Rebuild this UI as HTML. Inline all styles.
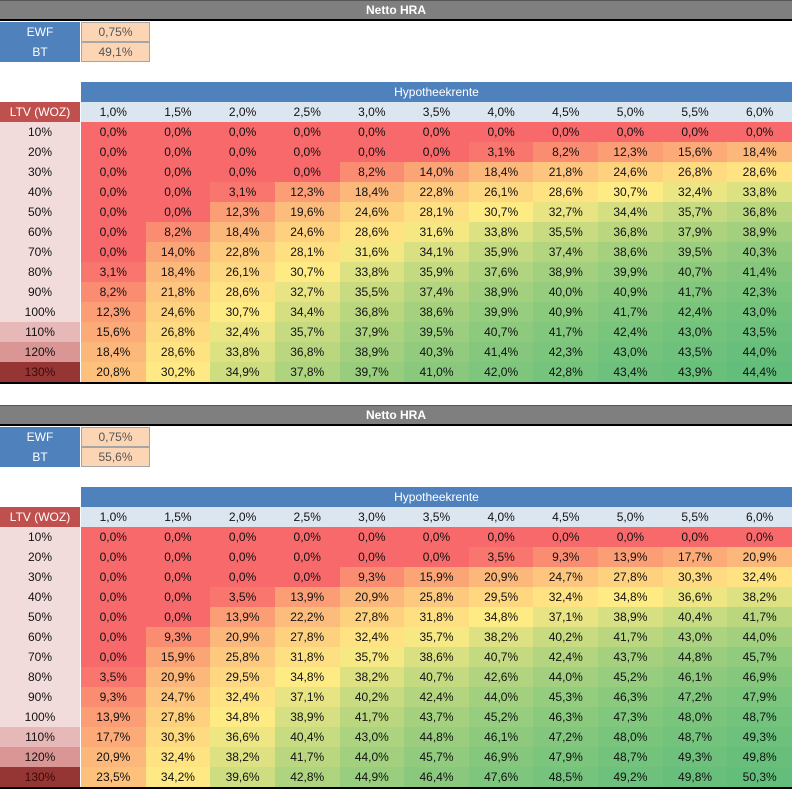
<!DOCTYPE html>
<html><head><meta charset="utf-8"><style>
body{margin:0;width:792px;height:790px;background:#fff;font-family:"Liberation Sans",sans-serif;font-size:12px;position:relative;overflow:hidden}
.c{position:absolute;box-sizing:border-box;display:flex;align-items:center;justify-content:center;height:20px;color:#111}
</style></head><body>
<script>
const rates=["1,0%","1,5%","2,0%","2,5%","3,0%","3,5%","4,0%","4,5%","5,0%","5,5%","6,0%"];
const ltvs=["10%","20%","30%","40%","50%","60%","70%","80%","90%","100%","110%","120%","130%"];
const ewf1="0,75%", bt1="49,1%", ewf2="0,75%", bt2="55,6%";
const t1r10=[0,0,0,0,0,0,0,0,0,0,0];
const t1r20=[0,0,0,0,0,0,3.1,8.2,12.3,15.6,18.4];
const t1r30=[0,0,0,0,8.2,14.0,18.4,21.8,24.6,26.8,28.6];
const t1r40=[0,0,3.1,12.3,18.4,22.8,26.1,28.6,30.7,32.4,33.8];
const t1r50=[0,0,12.3,19.6,24.6,28.1,30.7,32.7,34.4,35.7,36.8];
const t1r60=[0,8.2,18.4,24.6,28.6,31.6,33.8,35.5,36.8,37.9,38.9];
const t1r70=[0,14.0,22.8,28.1,31.6,34.1,35.9,37.4,38.6,39.5,40.3];
const t1r80=[3.1,18.4,26.1,30.7,33.8,35.9,37.6,38.9,39.9,40.7,41.4];
const t1r90=[8.2,21.8,28.6,32.7,35.5,37.4,38.9,40.0,40.9,41.7,42.3];
const t1r100=[12.3,24.6,30.7,34.4,36.8,38.6,39.9,40.9,41.7,42.4,43.0];
const t1r110=[15.6,26.8,32.4,35.7,37.9,39.5,40.7,41.7,42.4,43.0,43.5];
const t1r120=[18.4,28.6,33.8,36.8,38.9,40.3,41.4,42.3,43.0,43.5,44.0];
const t1r130=[20.8,30.2,34.9,37.8,39.7,41.0,42.0,42.8,43.4,43.9,44.4];
const t2r10=[0,0,0,0,0,0,0,0,0,0,0];
const t2r20=[0,0,0,0,0,0,3.5,9.3,13.9,17.7,20.9];
const t2r30=[0,0,0,0,9.3,15.9,20.9,24.7,27.8,30.3,32.4];
const t2r40=[0,0,3.5,13.9,20.9,25.8,29.5,32.4,34.8,36.6,38.2];
const t2r50=[0,0,13.9,22.2,27.8,31.8,34.8,37.1,38.9,40.4,41.7];
const t2r60=[0,9.3,20.9,27.8,32.4,35.7,38.2,40.2,41.7,43.0,44.0];
const t2r70=[0,15.9,25.8,31.8,35.7,38.6,40.7,42.4,43.7,44.8,45.7];
const t2r80=[3.5,20.9,29.5,34.8,38.2,40.7,42.6,44.0,45.2,46.1,46.9];
const t2r90=[9.3,24.7,32.4,37.1,40.2,42.4,44.0,45.3,46.3,47.2,47.9];
const t2r100=[13.9,27.8,34.8,38.9,41.7,43.7,45.2,46.3,47.3,48.0,48.7];
const t2r110=[17.7,30.3,36.6,40.4,43.0,44.8,46.1,47.2,48.0,48.7,49.3];
const t2r120=[20.9,32.4,38.2,41.7,44.0,45.7,46.9,47.9,48.7,49.3,49.8];
const t2r130=[23.5,34.2,39.6,42.8,44.9,46.4,47.6,48.5,49.2,49.8,50.3];
const table1=[t1r10,t1r20,t1r30,t1r40,t1r50,t1r60,t1r70,t1r80,t1r90,t1r100,t1r110,t1r120,t1r130];
const table2=[t2r10,t2r20,t2r30,t2r40,t2r50,t2r60,t2r70,t2r80,t2r90,t2r100,t2r110,t2r120,t2r130];

const X0=81, CW=(792-81)/11, RH=20;
const ltvColors=["#F2DCDB","#F2DCDB","#F2DCDB","#F2DCDB","#F2DCDB","#F2DCDB","#F2DCDB","#F2DCDB","#F2DCDB","#F2DCDB","#E6B8B7","#DA9694","#963634"];
function cell(x,y,w,h,txt,bg,color,extra){
  const d=document.createElement('div');d.className='c';
  d.style.left=x+'px';d.style.top=y+'px';d.style.width=w+'px';d.style.height=h+'px';
  if(bg)d.style.background=bg; if(color)d.style.color=color;
  if(extra)Object.assign(d.style,extra);
  d.textContent=txt||'';document.body.appendChild(d);return d;
}
function lerp(a,b,t){return a.map((v,i)=>Math.round(v+(b[i]-v)*t));}
function colorFor(v,min,mid,max){
  const R=[248,105,107],Y=[255,235,132],G=[99,190,123];
  let c=v<=mid?lerp(R,Y,(v-min)/(mid-min||1)):lerp(Y,G,(v-mid)/(max-mid||1));
  return 'rgb('+c.join(',')+')';
}
function fmt(v){return v.toFixed(1).replace('.',',')+'%';}
function drawTable(oy,data,ewf,bt,k){
  let d=cell(0,oy,792,21,'Netto HRA','#7F7F7F','#fff',{fontWeight:'bold',borderBottom:'2px solid #000',borderTop:'1px solid #555'});
  
  d=cell(0,oy+22,80,20,'EWF','#4F81BD','#fff');
  d=cell(81,oy+22,69,20,ewf,'#FCD5B4','#555',{border:'1px solid #A6A6A6'});
  d=cell(0,oy+42,80,20,'BT','#4F81BD','#fff');
  d=cell(81,oy+42,69,20,bt,'#FCD5B4','#555',{border:'1px solid #A6A6A6'});
  d=cell(81,oy+82,711,20,'Hypotheekrente','#4F81BD','#fff');
  d=cell(0,oy+102,80,20,'LTV (WOZ)','#C0504D','#fff');
  rates.forEach((r,j)=>{const e=cell(X0+j*CW,oy+102,CW,20,r,'#DCE6F1');
    
    });
  const all=data.flat().slice().sort((a,b)=>a-b);
  const min=all[0],max=all[all.length-1],mid=all[Math.floor(all.length/2)];
  data.forEach((row,i)=>{
    const y=oy+122+i*RH;
    const l=cell(0,y,80,RH,ltvs[i],ltvColors[i],i==12?'#3a0a0a':'#111');
    
    
    row.forEach((v,j)=>{
      const e=cell(X0+j*CW,y,CW,RH,fmt(v),colorFor(v,min,mid,max));
      
      
    });
  });
  const b=cell(0,oy+382,792,2,'','#000');
  
  
}
drawTable(0,table1,ewf1,bt1,1);
drawTable(405,table2,ewf2,bt2,2);
</script>
</body></html>
